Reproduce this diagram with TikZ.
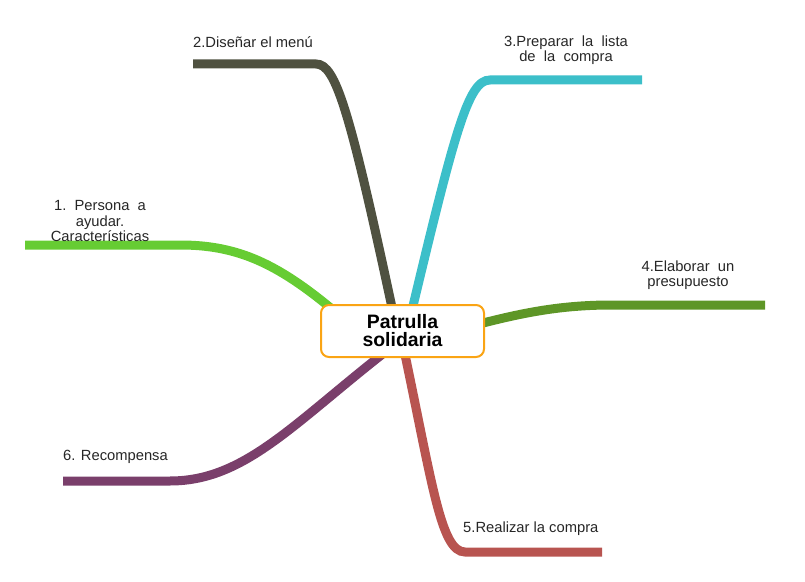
\documentclass[tikz,border=0pt]{standalone}
\usepackage{fontspec}
\setmainfont{Liberation Sans}
\begin{document}
\begin{tikzpicture}[x=1bp,y=-1bp,
  br/.style={line width=9bp},
  lbl/.style={font=\fontsize{14.8}{15.5}\selectfont, inner sep=0pt, text=black!85},
  mainbox/.style={draw=boxorange, line width=2bp, fill=white, rounded corners=8bp,
     minimum width=163bp, minimum height=52bp, align=center, inner sep=0pt,
     font=\fontsize{19.5}{19}\selectfont\bfseries}]
\definecolor{boxorange}{HTML}{FAA414}
\definecolor{cgreen}{HTML}{66CC33}
\definecolor{colive}{HTML}{4F5140}
\definecolor{ccyan}{HTML}{3CBFC9}
\definecolor{cgreenb}{HTML}{5E9627}
\definecolor{cred}{HTML}{B85450}
\definecolor{cpurple}{HTML}{7A3F6B}
\useasboundingbox (0,0) rectangle (805,582);
% coordinates
\coordinate (s1) at (380,352);
\coordinate (k1) at (180,245);
\coordinate (e1) at (25,245);
\coordinate (s2) at (397,331);
\coordinate (k2) at (316,64);
\coordinate (e2) at (193,64);
\coordinate (s3) at (407,331);
\coordinate (k3) at (490,80);
\coordinate (e3) at (642,80);
\coordinate (s4) at (420,340);
\coordinate (k4) at (612,305);
\coordinate (e4) at (765,305);
\coordinate (s5) at (400,331);
\coordinate (k5) at (465,552);
\coordinate (e5) at (602,552);
\coordinate (s6) at (410,333);
\coordinate (k6) at (170,481);
\coordinate (e6) at (63,481);
% branches
\draw[br, cgreen] (s1) .. controls (295,272) and (250,245) .. (k1) -- (e1);
\draw[br, colive] (s2) .. controls (350,110) and (336,64) .. (k2) -- (e2);
\draw[br, ccyan] (s3) .. controls (455,130) and (468,80) .. (k3) -- (e3);
\draw[br, cgreenb] (s4) .. controls (500,318) and (545,305) .. (k4) -- (e4);
\draw[br, cred] (s5) .. controls (432,480) and (440,552) .. (k5) -- (e5);
\draw[br, cpurple] (s6) .. controls (300,415) and (250,481) .. (k6) -- (e6);
% central node
\node[mainbox] (c) at (402.5,331) {Patrulla\\[-1bp]solidaria};
% labels
\node[lbl, anchor=west] (l2) at (193,42) {2.Diseñar el menú};
\node[lbl, align=center] (l3) at (566,50) {3.Preparar\ \ la\ \ lista\\ de\ \ la\ \ compra};
\node[lbl, align=center] (l1) at (100,221) {1.\ \ Persona\ \ a\\ ayudar.\\Características};
\node[lbl, align=center] (l4) at (688,275) {4.Elaborar\ \ un\\ presupuesto};
\node[lbl, anchor=west] (l6) at (63,457) {6. Recompensa};
\node[lbl, anchor=west] (l5) at (463,529) {5.Realizar la compra};
\end{tikzpicture}
\end{document}
